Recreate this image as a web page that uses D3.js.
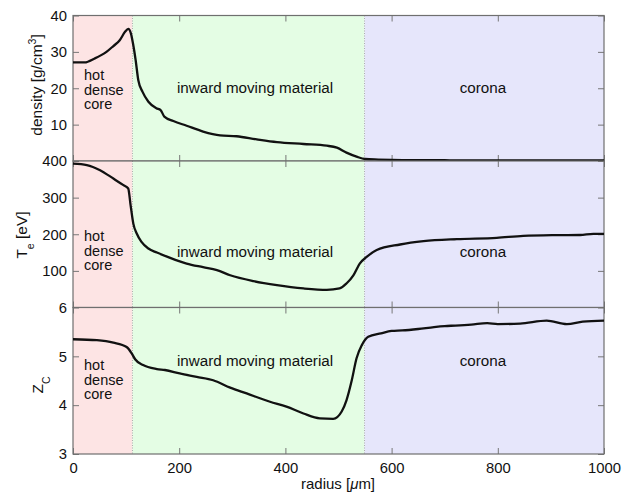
<!DOCTYPE html>
<html lang="en">
<head>
<meta charset="UTF-8">
<title>radius profiles</title>
<script src="https://d3js.org/d3.v7.min.js"></script>
<style>
  body { margin: 0; background: #fff; }
  text { font-family: "Liberation Sans", Arial, Helvetica, sans-serif; fill: #111; }
</style>
</head>
<body>
<script>
// region borders [radius]
var regionEdges = [0, 112, 549, 1000];
var regionNames = ["hot dense core", "inward moving material", "corona"];
var xTicks = [0, 200, 400, 600, 800, 1000];

// density [g/cm3]
var densR = [0, 22, 41, 63, 76, 88, 98, 104, 109, 113, 118, 123, 131, 142, 157, 165, 172, 189, 214, 245, 277, 308, 346, 384, 434, 478, 497, 515, 534, 550, 575, 600, 650, 700, 800, 900, 1000];
var densV = [27.1, 27.1, 28.2, 30.0, 31.6, 33.2, 35.5, 36.3, 35.1, 32.3, 27.7, 22.2, 19.0, 16.3, 14.5, 14.0, 12.2, 11.0, 9.7, 8.1, 7.05, 6.8, 5.95, 5.2, 4.67, 4.2, 3.66, 2.3, 1.2, 0.55, 0.4, 0.3, 0.22, 0.2, 0.18, 0.18, 0.17];
var densTicks = [0, 10, 20, 30, 40];

// electron temperature [eV]
var tempR = [0, 26, 51, 76, 95, 104, 108.5, 113.6, 120, 129, 142, 158, 183, 214, 245, 271, 296, 340, 384, 434, 478, 502, 515, 528, 540, 553, 572, 616, 660, 723, 798, 848, 911, 955, 980, 1000];
var tempV = [393, 389, 375, 352, 334, 325, 279, 229, 202, 179, 161, 150, 135.5, 120, 110, 102, 88, 72, 61, 52, 48, 52, 65.6, 88, 120, 138, 157, 172, 181, 186.6, 190, 195.6, 197.5, 198, 201, 201];
var tempTicks = [0, 100, 200, 300, 400];

// carbon ionisation
var zR = [0, 45, 76, 101, 110.5, 117, 132, 158, 173, 201, 233, 264, 296, 327, 371, 402, 434, 465, 490, 506, 515, 525, 534, 544, 556, 580, 600, 620, 650, 680, 700, 720, 750, 780, 800, 842, 892, 930, 960, 1000];
var zV = [5.35, 5.33, 5.28, 5.19, 5.06, 4.94, 4.82, 4.74, 4.72, 4.65, 4.58, 4.51, 4.36, 4.24, 4.07, 3.97, 3.83, 3.73, 3.72, 3.87, 4.10, 4.51, 4.96, 5.23, 5.40, 5.47, 5.52, 5.53, 5.56, 5.60, 5.62, 5.63, 5.65, 5.68, 5.66, 5.67, 5.73, 5.66, 5.71, 5.73];
var zTicks = [3, 4, 5, 6];

var width = 633, height = 495;
var left = 73, right = 604;
var regionFill = ["#fde4e4", "#e4fde4", "#e6e6fb"];

var svg = d3.select("body").append("svg")
    .attr("width", width)
    .attr("height", height)

var x = d3.scaleLinear().domain([0, 1000]).range([left, right])

// the lowest label of the upper two panels sits under the top label of the next one
var panels = [
  {r: densR, v: densV, ticks: densTicks, skip: 0, domain: [0, 40], top: 15.5, bottom: 161,
   labelY: [80, 94.5, 109], midY: 93},
  {r: tempR, v: tempV, ticks: tempTicks, skip: 0, domain: [0, 400], top: 161, bottom: 307.5,
   labelY: [241, 255.5, 270], midY: 256.5},
  {r: zR, v: zV, ticks: zTicks, skip: null, domain: [3, 6], top: 307.5, bottom: 454,
   labelY: [370, 384.5, 399], midY: 365.5}
];

panels.forEach(function(p, k) {
  var y = d3.scaleLinear().domain(p.domain).range([p.bottom, p.top])
  var g = svg.append("g")

  // coloured regions
  g.selectAll("rect.region")
    .data(regionFill)
    .join("rect")
    .attr("class", "region")
    .attr("x", (d, i) => x(regionEdges[i]))
    .attr("y", p.top)
    .attr("width", (d, i) => x(regionEdges[i + 1]) - x(regionEdges[i]))
    .attr("height", p.bottom - p.top)
    .attr("fill", d => d)

  // dotted borders between regions
  g.selectAll("line.edge")
    .data([regionEdges[1], regionEdges[2]])
    .join("line")
    .attr("class", "edge")
    .attr("x1", d => x(d)).attr("x2", d => x(d))
    .attr("y1", p.top).attr("y2", p.bottom)
    .attr("stroke", "#9a9a9a")
    .attr("stroke-width", 0.8)
    .attr("stroke-dasharray", "1,1.5")

  // region names
  var hot = g.append("text").attr("x", left + 11).attr("font-size", 14.5)
  regionNames[0].split(" ").forEach(function(w, i) {
    hot.append("tspan").attr("x", left + 11).attr("y", p.labelY[i]).text(w)
  })
  g.append("text")
    .attr("x", 255).attr("y", p.midY)
    .attr("text-anchor", "middle").attr("font-size", 15.2)
    .text(regionNames[1])
  g.append("text")
    .attr("x", 483).attr("y", p.midY)
    .attr("text-anchor", "middle").attr("font-size", 15.2)
    .text(regionNames[2])

  var yFmt = d => (d === p.skip ? "" : String(d))

  // axes with inward ticks
  var ax = [
    [d3.axisLeft(y).tickValues(p.ticks).tickSize(-6).tickPadding(6).tickSizeOuter(0).tickFormat(yFmt), "translate(" + left + ",0)"],
    [d3.axisRight(y).tickValues(p.ticks).tickSize(-6).tickFormat("").tickSizeOuter(0), "translate(" + right + ",0)"],
    [d3.axisTop(x).tickValues(xTicks).tickSize(-6).tickFormat("").tickSizeOuter(0), "translate(0," + p.top + ")"],
    [d3.axisBottom(x).tickValues(xTicks).tickSize(-6).tickPadding(8).tickSizeOuter(0)
       .tickFormat(k == 2 ? d => String(d) : ""), "translate(0," + p.bottom + ")"]
  ];
  ax.forEach(function(a) {
    var ag = g.append("g").attr("transform", a[1]).call(a[0])
    ag.select(".domain").remove()
    ag.selectAll(".tick line").attr("stroke", "#777")
    ag.selectAll(".tick text")
      .attr("font-size", 14.8)
      .attr("font-family", "Liberation Sans, Arial, sans-serif")
      .attr("fill", "#111")
  })

  // frame
  g.append("rect")
    .attr("x", left).attr("y", p.top)
    .attr("width", right - left).attr("height", p.bottom - p.top)
    .attr("fill", "none")
    .attr("stroke", "#6f6f6f")
    .attr("stroke-width", 1.2)

  // data curve
  var line = d3.line()
    .x((d, i) => x(p.r[i]))
    .y(d => y(d))
    .curve(d3.curveMonotoneX)
  g.append("path")
    .datum(p.v)
    .attr("d", line)
    .attr("fill", "none")
    .attr("stroke", "#111")
    .attr("stroke-width", 2.3)
    .attr("stroke-linejoin", "round")
})

// axis titles
var t1 = svg.append("text")
  .attr("transform", "translate(42,85) rotate(-90)")
  .attr("text-anchor", "middle").attr("font-size", 15.5)
t1.append("tspan").text("density [g/cm")
t1.append("tspan").attr("font-size", 10.5).attr("dy", -6).text("3")
t1.append("tspan").attr("dy", 6).text("]")

var t2 = svg.append("text")
  .attr("transform", "translate(27,235) rotate(-90)")
  .attr("text-anchor", "middle").attr("font-size", 15.5)
t2.append("tspan").text("T")
t2.append("tspan").attr("font-size", 10.5).attr("dy", 7).text("e")
t2.append("tspan").attr("dy", -7).text(" [eV]")

var t3 = svg.append("text")
  .attr("transform", "translate(43,385) rotate(-90)")
  .attr("text-anchor", "middle").attr("font-size", 15.5)
t3.append("tspan").text("Z")
t3.append("tspan").attr("font-size", 10.5).attr("dy", 7).text("C")

var t4 = svg.append("text")
  .attr("x", 338).attr("y", 489)
  .attr("text-anchor", "middle").attr("font-size", 15)
t4.append("tspan").text("radius [")
t4.append("tspan").attr("font-style", "italic").text("\u03bc")
t4.append("tspan").text("m]")
</script>
</body>
</html>
